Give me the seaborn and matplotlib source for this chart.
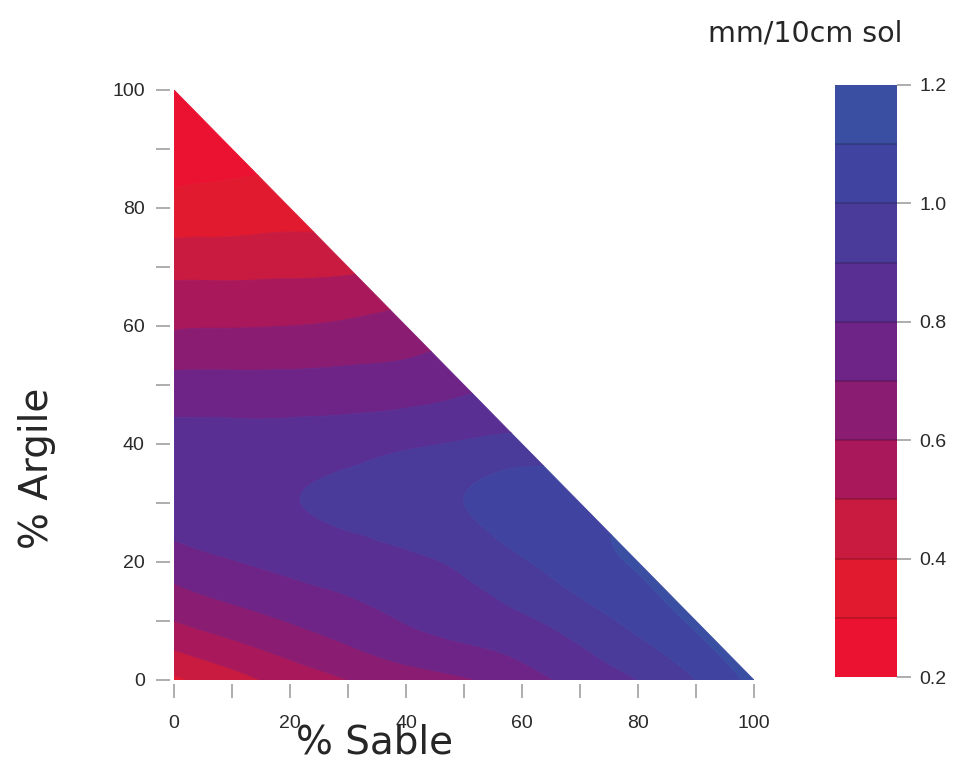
import matplotlib
matplotlib.use("Agg")
import matplotlib.pyplot as plt
import matplotlib.tri as mtri
import numpy as np
import pandas as pd
import seaborn as sns
from matplotlib.cm import ScalarMappable
from matplotlib.colors import BoundaryNorm, ListedColormap


# useful water reserve (mm/10cm sol) at 10 % steps
# each list runs over sand = 0, 10, 20 ... up to 100 - clay
SAND_STEPS = [0, 10, 20, 30, 40, 50, 60, 70, 80, 90, 100]
CLAY_STEPS = [0, 10, 20, 30, 40, 50, 60, 70, 80, 90, 100]
V_CLAY_0 = [0.38, 0.46, 0.54, 0.60, 0.65, 0.69, 0.76, 0.83, 0.90, 1.00, 1.13]
V_CLAY_10 = [0.60, 0.655, 0.705, 0.755, 0.805, 0.845, 0.885, 0.95, 1.03, 1.12]
V_CLAY_20 = [0.75, 0.795, 0.83, 0.855, 0.88, 0.92, 0.99, 1.06, 1.11]
V_CLAY_30 = [0.86, 0.875, 0.895, 0.92, 0.955, 1.00, 1.05, 1.07]
V_CLAY_40 = [0.84, 0.84, 0.845, 0.86, 0.885, 0.91, 0.935]
V_CLAY_50 = [0.735, 0.735, 0.735, 0.74, 0.75, 0.78]
V_CLAY_60 = [0.59, 0.595, 0.60, 0.615, 0.64]
V_CLAY_70 = [0.47, 0.47, 0.475, 0.48]
V_CLAY_80 = [0.33, 0.34, 0.35]
V_CLAY_90 = [0.27, 0.28]
V_CLAY_100 = [0.23]
ROWS = [V_CLAY_0, V_CLAY_10, V_CLAY_20, V_CLAY_30, V_CLAY_40, V_CLAY_50,
        V_CLAY_60, V_CLAY_70, V_CLAY_80, V_CLAY_90, V_CLAY_100]

LEVELS = [0.2, 0.3, 0.4, 0.5, 0.6, 0.7, 0.8, 0.9, 1.0, 1.1, 1.2]
LEVEL_COLORS = ["#EA1230", "#E11A30", "#C81B3F", "#A8185A", "#8A1C72",
                "#6E2486", "#5A2F94", "#4A3B9A", "#4044A0", "#3B4FA2"]
AXIS_TICKS = [0, 20, 40, 60, 80, 100]
MINOR_TICKS = [10, 30, 50, 70, 90]
CBAR_TICKS = [0.2, 0.4, 0.6, 0.8, 1.0, 1.2]
CBAR_LABELS = ["0.2", "0.4", "0.6", "0.8", "1.0", "1.2"]


def build_table():
    recs = []
    for c, row in zip(CLAY_STEPS, ROWS):
        for s, v in zip(SAND_STEPS, row):
            recs.append({"sable": s, "argile": c, "ru": v})
    return pd.DataFrame(recs)


sns.set_theme(style="white")
plt.rcParams["font.family"] = ["DejaVu Sans"]

df = build_table()
cmap = ListedColormap(sns.color_palette(LEVEL_COLORS))
norm = BoundaryNorm(LEVELS, cmap.N)

fig = plt.figure(figsize=(9.61, 7.63), dpi=100)
ax = fig.add_axes([0.1811, 0.1088, 0.6035, 0.7733])

tri = mtri.Triangulation(df["sable"].to_numpy(float), df["argile"].to_numpy(float))
tri_fine, z_fine = mtri.UniformTriRefiner(tri).refine_field(df["ru"].to_numpy(float), subdiv=4)
z_fine = np.clip(z_fine, 0.2001, 1.1999)
cs = ax.tricontourf(tri_fine, z_fine, levels=LEVELS, cmap=cmap, norm=norm, antialiased=True)
cs.set_edgecolor("face")
cs.set_linewidth(0.6)

ax.set_xlim(0, 100)
ax.set_ylim(0, 100)
for side in ["top", "right"]:
    ax.spines[side].set_visible(False)
for side in ["bottom", "left"]:
    ax.spines[side].set_position(("outward", 3))
    ax.spines[side].set_visible(False)

tick_font = {"family": "Liberation Sans", "size": 14, "color": "#2a2a2a"}
ax.set_xticks(AXIS_TICKS)
ax.set_xticks(MINOR_TICKS, minor=True)
ax.set_yticks(AXIS_TICKS)
ax.set_yticks(MINOR_TICKS, minor=True)
ax.set_xticklabels([str(t) for t in AXIS_TICKS], fontdict=tick_font)
ax.set_yticklabels([str(t) for t in AXIS_TICKS], fontdict=tick_font)
ax.tick_params(which="both", direction="out", length=10, width=1.2, color="#a0a0a0",
               bottom=True, left=True, top=False, right=False)
ax.tick_params(axis="x", which="both", pad=12)
ax.tick_params(axis="y", which="both", pad=8)
ax.grid(False)

fig.text(0.3897, 0.0275, "% Sable", fontsize=28, ha="center", va="center")
fig.text(0.0385, 0.3866, "% Argile", fontsize=28, ha="center", va="center", rotation=90)
fig.text(0.8375, 0.9567, "mm/10cm sol", fontsize=20.5, ha="center", va="center")

cax = fig.add_axes([0.8689, 0.1127, 0.0645, 0.7759])
sm = ScalarMappable(norm=norm, cmap=cmap)
cbar = fig.colorbar(sm, cax=cax, ticks=CBAR_TICKS)
cbar.outline.set_visible(False)
cbar.ax.minorticks_off()
cbar.ax.set_yticklabels(CBAR_LABELS, fontdict=tick_font)
cbar.ax.tick_params(direction="out", length=10, width=1.2, color="#a0a0a0", pad=6)
for lv in LEVELS[1:-1]:
    cbar.ax.axhline(lv, color="#000000", alpha=0.2, lw=1.2)

fig.savefig("out.png", dpi=100)
